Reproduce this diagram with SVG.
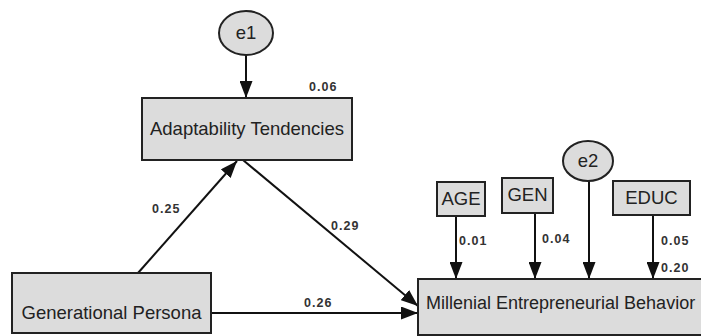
<svg xmlns="http://www.w3.org/2000/svg" width="701" height="336" viewBox="0 0 701 336">
<defs>
<marker id="ah" markerUnits="userSpaceOnUse" markerWidth="17" markerHeight="13" refX="17" refY="6.5" orient="auto">
<path d="M0,0 L17,6.5 L0,13 z" fill="#111"/>
</marker>
<style>
.box{fill:#dcdcdc;stroke:#222;stroke-width:2}
.ell{fill:#dcdcdc;stroke:#222;stroke-width:2}
.lbl{font-family:"Liberation Sans",Arial,sans-serif;font-size:18.5px;fill:#222;text-anchor:middle}
.num{font-family:"Liberation Sans",Arial,sans-serif;font-size:12.5px;font-weight:bold;fill:#333;letter-spacing:1px}
.edge{stroke:#111;stroke-width:2;fill:none;marker-end:url(#ah)}
</style>
</defs>
<rect width="701" height="336" fill="#fff"/>
<g id="connectors">
<line class="edge" x1="246" y1="55" x2="246" y2="98"/>
<line class="edge" x1="138" y1="273" x2="237" y2="161"/>
<line class="edge" x1="243" y1="160" x2="418" y2="306"/>
<line class="edge" x1="211" y1="313" x2="418" y2="313"/>
<line class="edge" x1="456" y1="216" x2="456" y2="279"/>
<line class="edge" x1="535" y1="213" x2="535" y2="279"/>
<line class="edge" x1="589" y1="181" x2="589" y2="279"/>
<line class="edge" x1="653" y1="215" x2="653" y2="279"/>
<text class="num" x="309" y="91">0.06</text>
<text class="num" x="152" y="213">0.25</text>
<text class="num" x="331" y="230">0.29</text>
<text class="num" x="304" y="307">0.26</text>
<text class="num" x="459" y="245">0.01</text>
<text class="num" x="542" y="243">0.04</text>
<text class="num" x="661" y="245">0.05</text>
<text class="num" x="661" y="272">0.20</text>
</g>
<g id="e1">
<ellipse class="ell" cx="246" cy="33" rx="27" ry="22"/>
<text class="lbl" x="246" y="39">e1</text>
</g>
<g id="adaptability">
<rect class="box" x="142" y="98" width="210" height="62"/>
<text class="lbl" x="247" y="135">Adaptability Tendencies</text>
</g>
<g id="generational">
<rect class="box" x="12" y="273" width="199" height="60"/>
<text class="lbl" x="111.5" y="319">Generational Persona</text>
</g>
<g id="meb">
<rect class="box" x="418" y="279" width="295" height="56"/>
<text class="lbl" x="426" y="309" style="text-anchor:start;font-size:18px">Millenial Entrepreneurial Behavior</text>
</g>
<g id="age">
<rect class="box" x="437" y="182" width="48" height="34"/>
<text class="lbl" x="461" y="205">AGE</text>
</g>
<g id="gen">
<rect class="box" x="502" y="178" width="51" height="35"/>
<text class="lbl" x="527.5" y="201">GEN</text>
</g>
<g id="e2">
<ellipse class="ell" cx="588" cy="161" rx="25" ry="20"/>
<text class="lbl" x="588" y="167">e2</text>
</g>
<g id="educ">
<rect class="box" x="613" y="181" width="77" height="34"/>
<text class="lbl" x="651.5" y="204">EDUC</text>
</g>
</svg>
